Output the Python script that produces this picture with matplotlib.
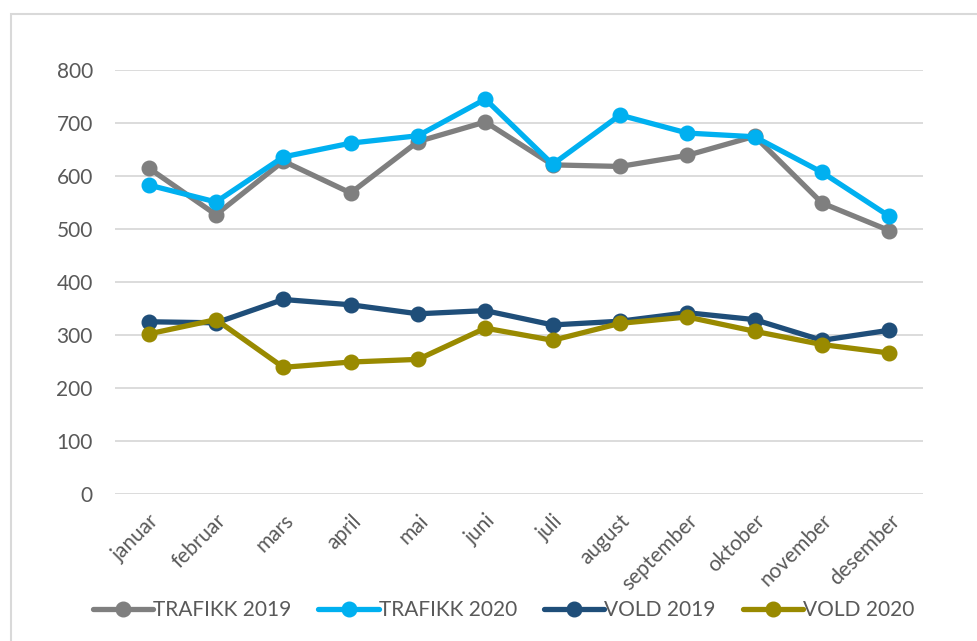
import matplotlib
matplotlib.use("Agg")
import matplotlib.pyplot as plt
from matplotlib.patches import Rectangle

# -------- DATA --------
maaneder = ['januar', 'februar', 'mars', 'april', 'mai', 'juni', 'juli',
            'august', 'september', 'oktober', 'november', 'desember']
trafikk_2019 = [615, 527, 628, 568, 665, 702, 621, 618, 639, 675, 549, 497]
trafikk_2020 = [583, 551, 636, 662, 676, 745, 622, 715, 681, 674, 607, 524]
vold_2019 = [325, 323, 367, 357, 340, 346, 319, 326, 342, 329, 290, 309]
vold_2020 = [302, 329, 239, 249, 254, 313, 290, 322, 334, 307, 282, 266]

serier = [
    ('TRAFIKK 2019', trafikk_2019, '#7F7F7F'),
    ('TRAFIKK 2020', trafikk_2020, '#00B0F0'),
    ('VOLD 2019', vold_2019, '#1F4E79'),
    ('VOLD 2020', vold_2020, '#998A00'),
]

plt.rcParams['font.family'] = ['Lato', 'DejaVu Sans']

fig = plt.figure(figsize=(9.77, 6.41), dpi=100)
# chart frame (Excel style, cropped at right and bottom)
fig.patches.append(Rectangle((11 / 977, -0.01), 1.0, 1 - 13.5 / 641 + 0.01,
                             transform=fig.transFigure, fill=False,
                             edgecolor='#D9D9D9', linewidth=1.5))

ax = fig.add_axes([115 / 977, 1 - 494 / 641, 808 / 977, 424 / 641])

x = range(len(maaneder))
for navn, verdier, farge in serier:
    ax.plot(x, verdier, color=farge, linewidth=3.8, marker='o',
            markersize=10.5, label=navn, solid_capstyle='round')

ax.set_ylim(0, 800)
ax.set_xlim(-0.5, len(maaneder) - 0.5)
ax.set_yticks(range(0, 801, 100))
ax.yaxis.grid(True, color='#D9D9D9', linewidth=1.3)
ax.set_axisbelow(True)
for s in ax.spines.values():
    s.set_visible(False)
ax.tick_params(axis='both', length=0, colors='#595959', labelsize=15)
ax.tick_params(axis='y', pad=16)

ax.set_xticks(list(x))
ax.set_xticklabels(maaneder, rotation=45, ha='right', rotation_mode='anchor')
ax.tick_params(axis='x', pad=12)

leg = ax.legend(loc='center', bbox_to_anchor=(0.481, (494 - 610) / 424),
                ncol=4, frameon=False, fontsize=15, handlelength=2.9,
                handletextpad=0.0, columnspacing=1.3, labelcolor='#595959')

fig.savefig('out.png', dpi=100)
